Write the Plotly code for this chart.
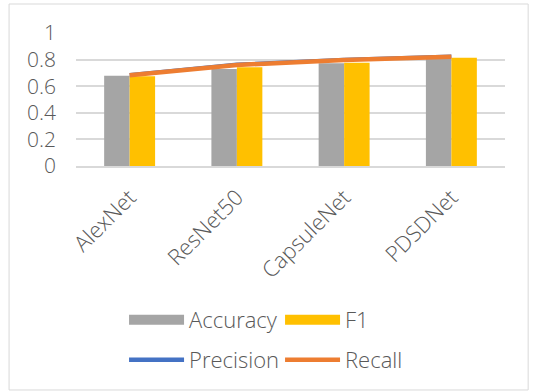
import plotly.graph_objects as go

models = ["AlexNet", "ResNet50", "CapsuleNet", "PDSDNet"]
accuracy = [0.678, 0.729, 0.772, 0.810]
f1 = [0.674, 0.742, 0.777, 0.814]
precision = [0.686, 0.765, 0.801, 0.825]
recall = [0.682, 0.760, 0.797, 0.821]
y_ticks = [0, 0.2, 0.4, 0.6, 0.8, 1]
y_tick_text = ["0", "0.2", "0.4", "0.6", "0.8", "1"]

GRAY = "#A5A5A5"
YELLOW = "#FFC000"
BLUE = "#4472C4"
ORANGE = "#ED7D31"
TXT = "#595959"
FONT = "Open Sans"
FW = 300

fig = go.Figure()
fig.add_trace(go.Bar(x=models, y=accuracy, name="Accuracy", marker_color=GRAY,
                     marker_line_width=0, showlegend=False, legendgroup="acc"))
fig.add_trace(go.Bar(x=models, y=f1, name="F1", marker_color=YELLOW,
                     marker_line_width=0, showlegend=False, legendgroup="f1"))
fig.add_trace(go.Scatter(x=models, y=precision, name="Precision", mode="lines",
                         line=dict(color=BLUE, width=3.5), showlegend=False, legendgroup="pre"))
fig.add_trace(go.Scatter(x=models, y=recall, name="Recall", mode="lines",
                         line=dict(color=ORANGE, width=4.5), showlegend=False, legendgroup="rec"))

# legend entries (wide swatches like the original)
fig.add_trace(go.Scatter(x=[None], y=[None], name="Accuracy", mode="lines",
                         line=dict(color=GRAY, width=11), legendgroup="acc", legend="legend"))
fig.add_trace(go.Scatter(x=[None], y=[None], name="F1", mode="lines",
                         line=dict(color=YELLOW, width=11), legendgroup="f1", legend="legend"))
fig.add_trace(go.Scatter(x=[None], y=[None], name="Precision", mode="lines",
                         line=dict(color=BLUE, width=4.5), legendgroup="pre", legend="legend2"))
fig.add_trace(go.Scatter(x=[None], y=[None], name="Recall", mode="lines",
                         line=dict(color=ORANGE, width=4.5), legendgroup="rec", legend="legend2"))

legend_common = dict(orientation="h", xanchor="left", yanchor="middle",
                     entrywidth=86, itemwidth=55, tracegroupgap=0,
                     bgcolor="rgba(0,0,0,0)",
                     font=dict(size=22, color=TXT, family=FONT, weight=FW))

fig.update_layout(
    width=533, height=392,
    margin=dict(l=76, r=28, t=33, b=226),
    paper_bgcolor="white", plot_bgcolor="white",
    font=dict(family=FONT, color=TXT, size=22, weight=FW),
    barmode="group", bargap=0.525, bargroupgap=0,
    legend=dict(x=0.112, y=(166 - 320) / 133, **legend_common),
    legend2=dict(x=0.112, y=(166 - 360) / 133, **legend_common),
    shapes=[dict(type="rect", xref="paper", yref="paper",
                 x0=-0.156, x1=1.054, y0=-1.684, y1=1.218,
                 line=dict(color="#D9D9D9", width=1), fillcolor="rgba(0,0,0,0)", layer="below")],
)
fig.update_xaxes(showgrid=False, showline=True, linecolor="#D9D9D9", linewidth=1.5,
                 tickangle=-45, ticks="", automargin=False,
                 tickfont=dict(size=22, color=TXT, family=FONT, weight=FW),
                 ticklabelstandoff=8)
fig.update_yaxes(range=[0, 1], tickvals=y_ticks, ticktext=y_tick_text, showgrid=True,
                 gridcolor="#D9D9D9", gridwidth=1.5, zeroline=False, showline=False,
                 ticks="", automargin=False,
                 tickfont=dict(size=21, color=TXT, family=FONT, weight=FW),
                 ticklabelstandoff=19)

fig.write_html("out.html")
